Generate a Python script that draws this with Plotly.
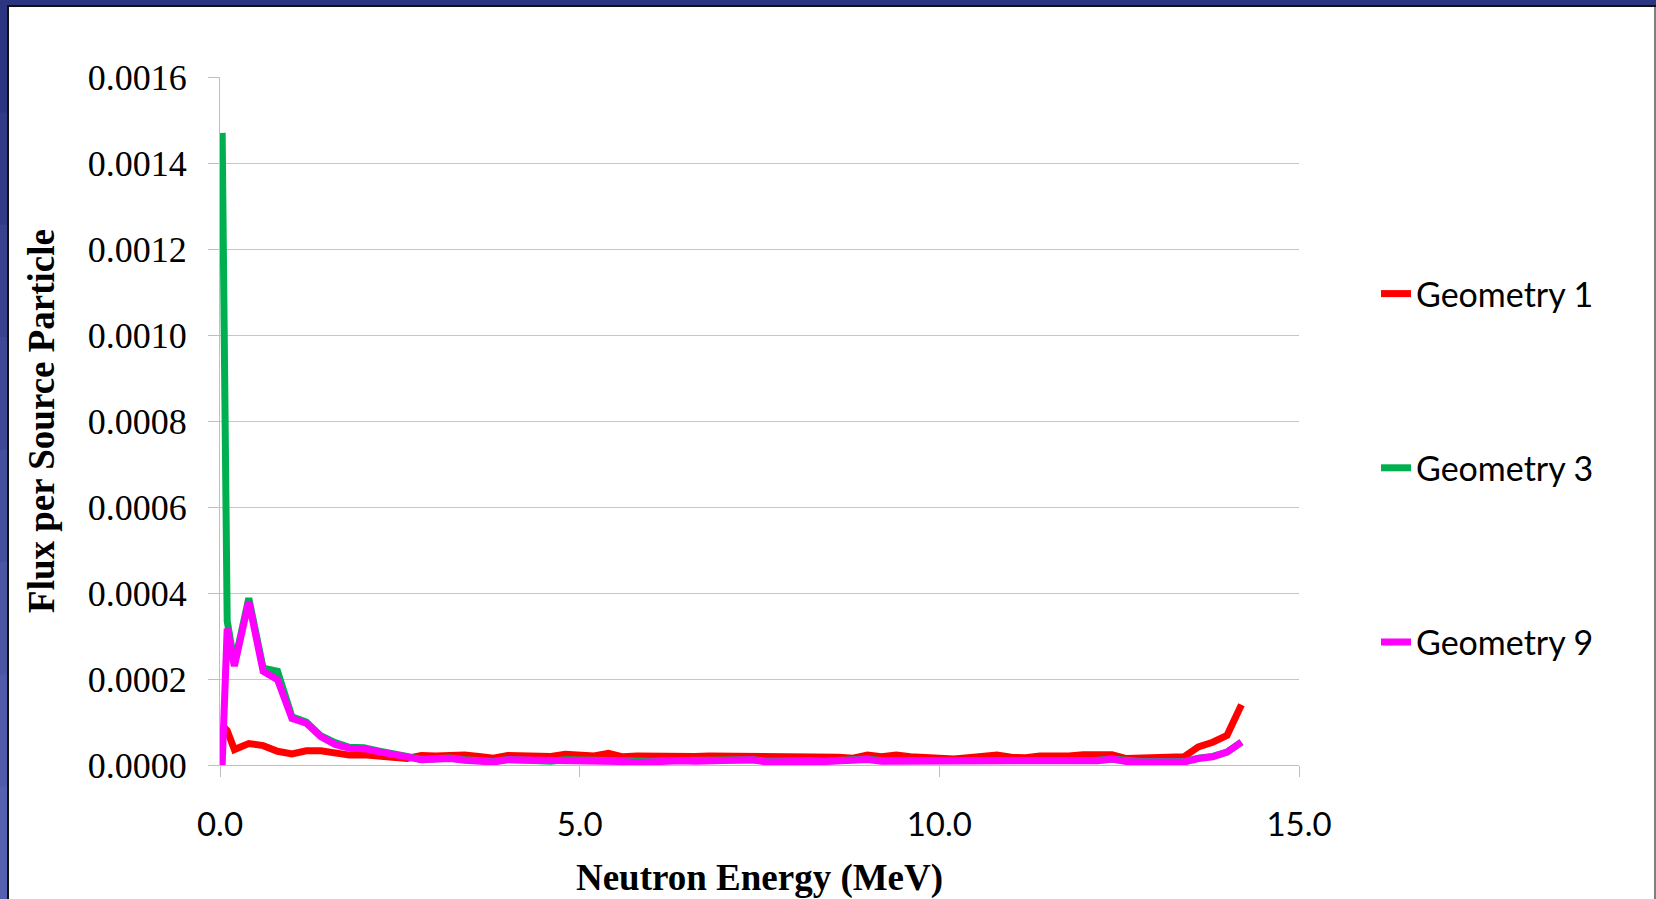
import plotly.graph_objects as go

# ---------------- data (flux values in units of 1e-4 per source particle) ----------------
energy_mev = [0.03, 0.1, 0.2, 0.4, 0.6, 0.8, 1.0, 1.2, 1.4, 1.6, 1.8, 2.0, 2.2, 2.4, 2.6,
              2.8, 3.0, 3.2, 3.4, 3.6, 3.8, 4.0, 4.2, 4.4, 4.6,
              4.8, 5.0, 5.2, 5.4, 5.6, 5.8, 6.0, 6.2, 6.4, 6.6,
              6.8, 7.0, 7.2, 7.4, 7.6, 7.8, 8.0, 8.2, 8.4, 8.6,
              8.8, 9.0, 9.2, 9.4, 9.6, 9.8, 10.0, 10.2, 10.4, 10.6,
              10.8, 11.0, 11.2, 11.4, 11.6, 11.8, 12.0, 12.2, 12.4, 12.6,
              12.8, 13.0, 13.2, 13.4, 13.6, 13.8, 14.0, 14.2]

geometry1 = [0.92, 0.80, 0.36, 0.50, 0.45, 0.32, 0.26, 0.33, 0.33, 0.27, 0.23, 0.24, 0.19, 0.18, 0.15,
             0.22, 0.21, 0.24, 0.23, 0.20, 0.16, 0.22, 0.21, 0.19, 0.20,
             0.25, 0.23, 0.21, 0.27, 0.19, 0.21, 0.20, 0.19, 0.19, 0.20,
             0.21, 0.21, 0.20, 0.19, 0.17, 0.18, 0.18, 0.18, 0.19, 0.18,
             0.16, 0.23, 0.19, 0.23, 0.19, 0.17, 0.14, 0.14, 0.17, 0.22,
             0.23, 0.18, 0.17, 0.21, 0.19, 0.21, 0.24, 0.24, 0.24, 0.15,
             0.17, 0.18, 0.18, 0.19, 0.42, 0.53, 0.69, 1.40]

geometry3 = [14.7, 3.35, 2.35, 3.88, 2.25, 2.18, 1.12, 1.00, 0.68, 0.52, 0.41, 0.40, 0.33, 0.28, 0.20,
             0.13, 0.15, 0.16, 0.12, 0.11, 0.08, 0.13, 0.12, 0.09, 0.09,
             0.12, 0.11, 0.12, 0.11, 0.09, 0.07, 0.09, 0.10, 0.11, 0.10,
             0.10, 0.11, 0.12, 0.12, 0.09, 0.10, 0.12, 0.10, 0.09, 0.11,
             0.13, 0.14, 0.10, 0.10, 0.09, 0.08, 0.07, 0.08, 0.09, 0.10,
             0.10, 0.09, 0.10, 0.11, 0.10, 0.10, 0.11, 0.11, 0.14, 0.09,
             0.08, 0.08, 0.08, 0.08, 0.16, 0.20, 0.30, 0.53]

geometry9 = [0.0, 3.17, 2.30, 3.80, 2.18, 1.98, 1.08, 0.97, 0.66, 0.48, 0.39, 0.38, 0.31, 0.27, 0.19,
             0.12, 0.14, 0.15, 0.11, 0.10, 0.07, 0.12, 0.12, 0.08, 0.08,
             0.11, 0.10, 0.09, 0.10, 0.08, 0.06, 0.08, 0.09, 0.10, 0.09,
             0.09, 0.10, 0.11, 0.12, 0.07, 0.09, 0.11, 0.09, 0.08, 0.10,
             0.13, 0.13, 0.09, 0.09, 0.08, 0.07, 0.06, 0.07, 0.08, 0.09,
             0.09, 0.08, 0.09, 0.10, 0.09, 0.09, 0.10, 0.10, 0.14, 0.08,
             0.07, 0.07, 0.07, 0.07, 0.15, 0.19, 0.30, 0.53]

series_names = ["Geometry 1", "Geometry 3", "Geometry 9"]
series_colors = ["#FF0000", "#00B050", "#FF00FF"]
UNIT = 1e-4

y_tick_vals = [0.0, 0.0002, 0.0004, 0.0006, 0.0008, 0.0010, 0.0012, 0.0014, 0.0016]
x_tick_vals = [0.0, 5.0, 10.0, 15.0]

# ---------------- figure ----------------
W, H = 1656, 899
ML, MR, MT, MB = 220, 357, 77, 134
PW, PH = W - ML - MR, H - MT - MB

def px(xp):
    return (xp - ML) / PW

def py(yp):
    return (H - MB - yp) / PH

fig = go.Figure()
for name, vals, col in zip(series_names, [geometry1, geometry3, geometry9], series_colors):
    fig.add_trace(go.Scatter(
        x=energy_mev, y=[v * UNIT for v in vals], mode="lines", name=name,
        legendgroup=name, line=dict(color=col, width=7),
    ))

fig.update_layout(
    width=W, height=H, autosize=False,
    margin=dict(l=ML, r=MR, t=MT, b=MB, pad=0, autoexpand=False),
    paper_bgcolor="white", plot_bgcolor="white",
    showlegend=True,
    legend=dict(
        x=px(1376), y=py(265), xanchor="left", yanchor="top",
        font=dict(family="Lato", size=34, color="black"),
        traceorder="grouped", tracegroupgap=127,
        bgcolor="rgba(0,0,0,0)", itemwidth=30,
    ),
    xaxis=dict(
        range=[0, 15], tickvals=x_tick_vals, tickformat=".1f", automargin=False,
        showgrid=False, zeroline=False,
        showline=True, linecolor="#BFBFBF", linewidth=1,
        ticks="outside", ticklen=11, tickcolor="#BFBFBF", tickwidth=1,
        ticklabelstandoff=19,
        tickfont=dict(family="Lato", size=33, color="black"),
        title=dict(text="Neutron Energy (MeV)", standoff=22,
                   font=dict(family="Liberation Serif", size=37, color="black", weight="bold")),
    ),
    yaxis=dict(
        range=[0, 0.0016], tickvals=y_tick_vals, tickformat=".4f", automargin=False,
        showgrid=True, gridcolor="#C6C6C6", gridwidth=1, zeroline=False,
        showline=True, linecolor="#BFBFBF", linewidth=1,
        ticks="outside", ticklen=11, tickcolor="#BFBFBF", tickwidth=1,
        ticklabelstandoff=14,
        tickfont=dict(family="Liberation Serif", size=36, color="black"),
        title=dict(text="Flux per Source Particle", standoff=21,
                   font=dict(family="Liberation Serif", size=37, color="black", weight="bold")),
    ),
)

# slide frame (decorative border around the chart)
shapes = []
shapes.append(dict(type="rect", xref="paper", yref="paper", x0=px(0), x1=px(W), y0=py(0), y1=py(5),
                   fillcolor="#2C3581", line=dict(width=0), layer="above"))
shapes.append(dict(type="rect", xref="paper", yref="paper", x0=px(0), x1=px(W), y0=py(5), y1=py(7),
                   fillcolor="#111111", line=dict(width=0), layer="above"))
left_cols = ["#2C3581", "#323B88", "#38428F", "#3E4896", "#444F9D", "#4A55A4", "#505CAB", "#5561B0"]
seg = H / len(left_cols)
for i, c in enumerate(left_cols):
    shapes.append(dict(type="rect", xref="paper", yref="paper", x0=px(0), x1=px(7),
                       y0=py(i * seg), y1=py((i + 1) * seg + 1),
                       fillcolor=c, line=dict(width=0), layer="above"))
shapes.append(dict(type="rect", xref="paper", yref="paper", x0=px(7), x1=px(9), y0=py(5), y1=py(H),
                   fillcolor="#111111", line=dict(width=0), layer="above"))
shapes.append(dict(type="rect", xref="paper", yref="paper", x0=px(W - 2), x1=px(W), y0=py(7), y1=py(H),
                   fillcolor="#7F7F7F", line=dict(width=0), layer="above"))
fig.update_layout(shapes=shapes)

fig.write_html("out.html")
